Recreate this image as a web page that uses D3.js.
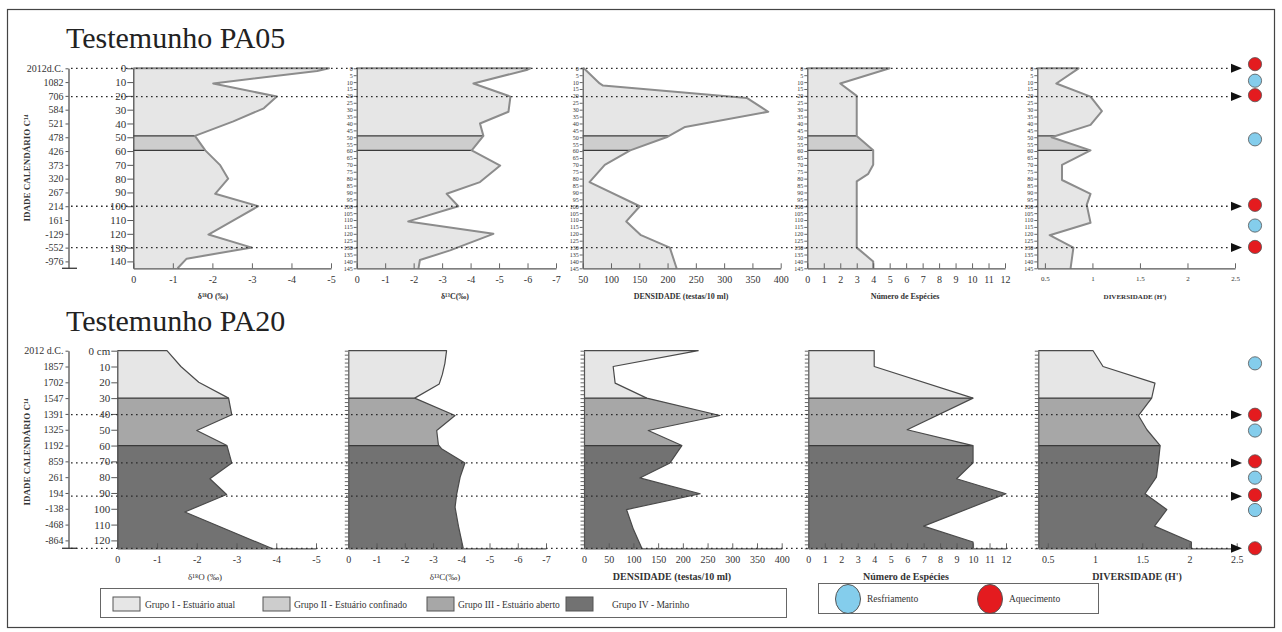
<!DOCTYPE html>
<html>
<head>
<meta charset="utf-8">
<script src="https://cdn.jsdelivr.net/npm/d3@7"></script>
<style>
  body { margin: 0; background: #fff; }
  svg { display: block; font-family: "Liberation Serif", "Times New Roman", serif; }
</style>
</head>
<body>
<svg id="chart" width="1282" height="632"></svg>
<script>
// ---------------- Core PA05 ----------------
const pa05AgeDepths = [0, 10, 20, 30, 40, 50, 60, 70, 80, 90, 100, 110, 120, 130, 140];
const pa05AgeLabels = ["2012d.C.", "1082", "706", "584", "521", "478", "426", "373", "320", "267", "214", "161", "-129", "-552", "-976"];
const pa05DepthLabels = [0, 10, 20, 30, 40, 50, 60, 70, 80, 90, 100, 110, 120, 130, 140];
const pa05Bands = [[0, 49, "I"], [49, 59.5, "II"], [59.5, 145, "I"]];
// [depth cm, value]
const pa05D18O = [[0,-4.95],[2,-4.65],[11,-2.02],[20.5,-3.63],[29,-3.3],[38.5,-2.53],[49,-1.56],[59.5,-1.82],[70,-2.19],[80,-2.4],[91,-2.07],[100,-3.16],[109,-2.61],[120.5,-1.9],[130,-3.0],[138,-1.35],[145,-1.12]];
const pa05D13C = [[0,-6.1],[1,-6.0],[11,-4.1],[20.5,-5.4],[31.5,-5.33],[40,-4.33],[49,-4.45],[59.5,-4.04],[70.5,-5.04],[82.5,-4.33],[91,-3.16],[100,-3.57],[111,-1.81],[120,-4.8],[132,-3.28],[139,-2.22],[145,-2.17]];
const pa05Dens = [[0,52],[11,80],[12.5,86],[21.5,340],[31.5,378],[42.5,231],[50,198],[59.5,134],[70,89],[82.5,62],[100,151],[111,127],[121,153],[130,204],[145,216]];
const pa05Spec = [[0,5],[11,2],[20,3],[49,3],[59.5,4],[70,4],[76.5,3.7],[82,3],[130,3],[140,4],[145,4]];
const pa05Div = [[0,0.855],[11,0.62],[20.5,0.98],[31,1.1],[41,0.98],[50,0.57],[59.5,0.98],[70,0.68],[81,0.68],[91,0.98],[99,0.94],[112,0.98],[121,0.55],[130,0.8],[145,0.77]];
const pa05Events = [0, 20.5, 100, 130];
const pa05Markers = [["A",-3],["R",9],["A",19.5],["R",51.5],["A",99],["R",114],["A",129.5]];

// ---------------- Core PA20 ----------------
const pa20AgeDepths = [0, 10, 20, 30, 40, 50, 60, 70, 80, 90, 100, 110, 120];
const pa20AgeLabels = ["2012 d.C.", "1857", "1702", "1547", "1391", "1325", "1192", "859", "261", "194", "-138", "-468", "-864"];
const pa20DepthLabels = ["0 cm", "10", "20", "30", "40", "50", "60", "70", "80", "90", "100", "110", "120"];
const pa20Bands = [[0, 30, "I"], [30, 60, "III"], [60, 125, "IV"]];
const pa20D18O = [[0,-1.25],[10,-1.6],[20,-2.05],[30,-2.8],[40.5,-2.88],[50.5,-2.0],[60,-2.76],[71,-2.88],[81,-2.33],[91,-2.75],[102,-1.7],[125,-3.88]];
const pa20D13C = [[0,-3.48],[8,-3.42],[15,-3.33],[21,-3.22],[30,-2.35],[41,-3.78],[50.5,-3.13],[59.5,-3.19],[62,-3.3],[71,-4.13],[80,-3.96],[90.5,-3.84],[99,-3.78],[111,-3.9],[125,-4.07]];
const pa20Dens = [[0,231],[10,59],[20.5,63],[30,127],[41,275],[50.5,130],[60,198],[71,174],[80.5,113],[90.5,235],[100.5,86],[113,100],[125,117]];
const pa20Spec = [[0,4],[10,4],[30,10],[50,6],[60,10],[71,10],[81,9],[90.5,12],[111,7],[121,10],[125,10]];
const pa20Div = [[0,0.98],[10,1.085],[20.5,1.635],[30,1.6],[41,1.46],[50,1.55],[60,1.69],[71,1.67],[80,1.65],[90.5,1.53],[100.5,1.76],[111,1.63],[121,2.02],[125,2.02]];
const pa20Events = [40.5, 71, 92, 125];
const pa20Markers = [["R",8],["A",40.5],["R",50.5],["A",70],["R",80.3],["A",91.3],["R",100.8],["A",125]];

// ---------------- Legend ----------------
const groupKeys = ["I", "II", "III", "IV"];
const groupNames = ["Grupo I - Estuário atual", "Grupo II - Estuário confinado", "Grupo III - Estuário aberto", "Grupo IV - Marinho"];
const eventNames = ["Resfriamento", "Aquecimento"];

const groupColor = { I: "#e6e6e6", II: "#cdcdcd", III: "#a7a7a7", IV: "#727272" };
const eventColor = { R: "#84cdec", A: "#e41b1f" };

const svg = d3.select("#chart");
const defs = svg.append("defs");
let clipId = 0;

// frame
svg.append("rect").attr("x", 7.5).attr("y", 9.5).attr("width", 1267).attr("height", 618)
  .attr("fill", "none").attr("stroke", "#444").attr("stroke-width", 1.2);

function interp(series, d) {
  for (let i = 1; i < series.length; i++) {
    const a = series[i - 1], b = series[i];
    if (d >= a[0] && d <= b[0]) return a[1] + (b[1] - a[1]) * (d - a[0]) / (b[0] - a[0]);
  }
  return series[series.length - 1][1];
}

function styleAxis(g, size, color) {
  g.selectAll("path.domain").attr("stroke", color).attr("stroke-width", 1.2);
  g.selectAll(".tick line").attr("stroke", color).attr("stroke-width", 0.9);
  g.selectAll(".tick text").attr("font-size", size).attr("fill", "#333")
    .attr("font-family", "'Liberation Serif', serif");
}

function drawCore(core) {
  const y = d3.scaleLinear().domain([0, core.maxDepth]).range(core.yRange);
  const g = svg.append("g");

  // title
  g.append("text").attr("x", 66).attr("y", core.titleY).attr("font-size", 30)
    .attr("fill", "#222").text(core.title);

  // age axis
  const ageAxis = d3.axisLeft(y).tickValues(core.ageDepths)
    .tickFormat((d, i) => core.ageLabels[i]).tickSize(3).tickSizeOuter(0).tickPadding(2);
  const ga = g.append("g").attr("transform", "translate(68.5,0)").call(ageAxis);
  styleAxis(ga, 10, "#444");
  g.append("line").attr("x1", 62).attr("x2", 77).attr("y1", y(core.maxDepth)).attr("y2", y(core.maxDepth))
    .attr("stroke", "#444").attr("stroke-width", 1.4);
  g.append("text").attr("transform", `translate(30,${core.ageTitleY}) rotate(-90)`)
    .attr("text-anchor", "middle").attr("font-size", 9).attr("font-weight", "bold").attr("fill", "#333")
    .text("IDADE CALENDÁRIO C¹⁴");

  core.panels.forEach((p, pi) => {
    const x = d3.scaleLinear().domain(p.domain).range(p.range);
    const x0 = p.range[0];
    const pg = g.append("g");

    // filled bands
    const area = d3.area().y(d => y(d[0])).x0(x0).x1(d => x(d[1]));
    core.bands.forEach(b => {
      const id = "clip" + (clipId++);
      defs.append("clipPath").attr("id", id).append("rect")
        .attr("x", x0).attr("width", p.range[1] - x0 + 20)
        .attr("y", y(b[0])).attr("height", y(b[1]) - y(b[0]));
      pg.append("path").datum(p.data).attr("d", area)
        .attr("clip-path", `url(#${id})`).attr("fill", groupColor[b[2]]);
    });

    // band boundaries
    core.bands.slice(1).forEach(b => {
      pg.append("line").attr("x1", x0).attr("x2", x(interp(p.data, b[0])))
        .attr("y1", y(b[0])).attr("y2", y(b[0]))
        .attr("stroke", "#3a3a3a").attr("stroke-width", 1.2);
    });

    // profile outline
    const outline = [[0, p.domain[0]], ...p.data, [core.maxDepth, p.domain[0]]];
    const firstPt = [[0, p.domain[0]]];
    pg.append("path").datum(firstPt.concat(p.data))
      .attr("d", d3.line().y(d => y(d[0])).x(d => x(d[1])))
      .attr("fill", "none").attr("stroke", core.lineColor).attr("stroke-width", core.lineWidth)
      .attr("stroke-linejoin", "round");

    // depth axis
    const depthAxisG = pg.append("g").attr("transform", `translate(${x0},0)`);
    if (pi === 0) {
      depthAxisG.call(d3.axisLeft(y).tickValues(d3.range(0, core.maxDepth + 0.1, 2.5)).tickSize(3).tickFormat("").tickSizeOuter(0));
      depthAxisG.call(d3.axisLeft(y).tickValues(core.depthLabelValues)
        .tickFormat((d, i) => core.depthLabels[i]).tickSize(6).tickSizeOuter(0).tickPadding(1));
      styleAxis(depthAxisG, 11, "#444");
    } else if (core.smallDepthLabels) {
      depthAxisG.call(d3.axisLeft(y).tickValues(d3.range(0, core.maxDepth + 0.1, 5))
        .tickSize(3).tickSizeOuter(0).tickPadding(1));
      styleAxis(depthAxisG, 6, "#555");
    } else {
      depthAxisG.call(d3.axisLeft(y).tickValues(d3.range(0, core.maxDepth + 0.1, 2.5))
        .tickSize(3.5).tickFormat("").tickSizeOuter(0));
      styleAxis(depthAxisG, 6, "#555");
    }

    // value axis
    const yb = y(core.maxDepth);
    const vx = pg.append("g").attr("transform", `translate(0,${yb})`);
    vx.call(d3.axisBottom(x).tickValues(p.minor).tickSize(-2.5).tickFormat("").tickSizeOuter(0));
    vx.call(d3.axisBottom(x).tickValues(p.ticks).tickFormat(p.fmt || (d => String(d).replace("-", "-")))
      .tickSize(-5).tickSizeOuter(0).tickPadding(8));
    styleAxis(vx, p.tickFont || 10, "#555");

    // axis title
    pg.append("text").attr("x", p.titleX).attr("y", core.xTitleY)
      .attr("text-anchor", "middle").attr("font-size", p.titleSize)
      .attr("font-weight", p.bold ? "bold" : "normal").attr("fill", "#333").text(p.title);
  });

  // event lines
  core.events.forEach(d => {
    g.append("line").attr("x1", 71).attr("x2", 1232).attr("y1", y(d)).attr("y2", y(d))
      .attr("stroke", "#2a2a2a").attr("stroke-width", 1.3).attr("stroke-dasharray", "1.6,3.4");
    g.append("path").attr("d", `M1231,${y(d) - 4.5} L1242,${y(d)} L1231,${y(d) + 4.5} Z`).attr("fill", "#111");
  });

  // climate markers
  core.markers.forEach(m => {
    g.append("circle").attr("cx", 1255).attr("cy", y(m[1])).attr("r", 6.6)
      .attr("fill", eventColor[m[0]]).attr("stroke", "#555").attr("stroke-width", 0.8);
  });
}

const fmtNeg = d => (d === 0 ? "0" : String(d));

drawCore({
  title: "Testemunho PA05", titleY: 48, maxDepth: 145, yRange: [68.3, 268.3], ageTitleY: 168,
  ageDepths: pa05AgeDepths, ageLabels: pa05AgeLabels,
  depthLabelValues: pa05DepthLabels, depthLabels: pa05DepthLabels.map(String),
  smallDepthLabels: true, bands: pa05Bands, events: pa05Events, markers: pa05Markers,
  lineColor: "#8c8c8c", lineWidth: 2, xTitleY: 299,
  panels: [
    { data: pa05D18O, domain: [0, -5], range: [133.3, 331], ticks: d3.range(0, -5.1, -1), minor: d3.range(0, -5.1, -0.5), fmt: fmtNeg, title: "δ¹⁸O (‰)", titleX: 213, titleSize: 8, bold: true },
    { data: pa05D13C, domain: [0, -7], range: [356.7, 556], ticks: d3.range(0, -7.1, -1), minor: d3.range(0, -7.1, -0.5), fmt: fmtNeg, title: "δ¹³C(‰)", titleX: 455, titleSize: 8, bold: true },
    { data: pa05Dens, domain: [50, 400], range: [582.7, 780.7], ticks: d3.range(50, 401, 50), minor: d3.range(50, 401, 25), title: "DENSIDADE (testas/10 ml)", titleX: 681, titleSize: 8, bold: true },
    { data: pa05Spec, domain: [0, 12], range: [807.3, 1005], ticks: d3.range(0, 13, 1), minor: d3.range(0, 12.1, 0.5), title: "Número de Espécies", titleX: 905, titleSize: 8, bold: true },
    { data: pa05Div, domain: [0.42, 2.5], range: [1037.3, 1235], ticks: [0.5, 1, 1.5, 2, 2.5], minor: [0.75, 1.25, 1.75, 2.25], fmt: d => d3.format(".1f")(d).replace(".0", ""), tickFont: 7, title: "DIVERSIDADE (H')", titleX: 1135, titleSize: 7, bold: true }
  ]
});

drawCore({
  title: "Testemunho PA20", titleY: 331, maxDepth: 125, yRange: [350.7, 548.3], ageTitleY: 452,
  ageDepths: pa20AgeDepths, ageLabels: pa20AgeLabels,
  depthLabelValues: pa20AgeDepths, depthLabels: pa20DepthLabels,
  smallDepthLabels: false, bands: pa20Bands, events: pa20Events, markers: pa20Markers,
  lineColor: "#4a4a4a", lineWidth: 1.2, xTitleY: 580,
  panels: [
    { data: pa20D18O, domain: [0, -5], range: [117.3, 316], ticks: d3.range(0, -5.1, -1), minor: d3.range(0, -5.1, -0.5), fmt: fmtNeg, title: "δ¹⁸O (‰)", titleX: 205, titleSize: 9, bold: false },
    { data: pa20D13C, domain: [0, -7], range: [348.3, 546], ticks: d3.range(0, -7.1, -1), minor: d3.range(0, -7.1, -0.5), fmt: fmtNeg, title: "δ¹³C(‰)", titleX: 445, titleSize: 9, bold: false },
    { data: pa20Dens, domain: [0, 400], range: [584, 781.7], ticks: d3.range(0, 401, 50), minor: d3.range(0, 401, 25), title: "DENSIDADE (testas/10 ml)", titleX: 672, titleSize: 10, bold: true },
    { data: pa20Spec, domain: [0, 12], range: [808.3, 1006], ticks: d3.range(0, 13, 1), minor: d3.range(0, 12.1, 0.5), title: "Número de Espécies", titleX: 906, titleSize: 10, bold: true },
    { data: pa20Div, domain: [0.4, 2.5], range: [1038.3, 1236.7], ticks: [0.5, 1, 1.5, 2, 2.5], minor: [0.75, 1.25, 1.75, 2.25], fmt: d => d3.format(".1f")(d).replace(".0", ""), tickFont: 10, title: "DIVERSIDADE (H')", titleX: 1137, titleSize: 10, bold: true }
  ]
});

// ---------------- Legends ----------------
const lg = svg.append("g");
lg.append("rect").attr("x", 100.5).attr("y", 588.5).attr("width", 686).attr("height", 29)
  .attr("fill", "#fff").attr("stroke", "#666").attr("stroke-width", 1);
const swX = [113, 263, 427, 566];
const txX = [145, 294, 458, 612];
groupKeys.forEach((k, i) => {
  lg.append("rect").attr("x", swX[i]).attr("y", 597).attr("width", 27).attr("height", 14)
    .attr("fill", groupColor[k]).attr("stroke", "#555").attr("stroke-width", 1);
  lg.append("text").attr("x", txX[i]).attr("y", 607.5).attr("font-size", 9.5).attr("fill", "#333").text(groupNames[i]);
});

lg.append("rect").attr("x", 818.5).attr("y", 583.5).attr("width", 280).attr("height", 30)
  .attr("fill", "#fff").attr("stroke", "#666").attr("stroke-width", 1);
const evKeys = ["R", "A"];
const evCx = [848, 990];
evKeys.forEach((k, i) => {
  lg.append("ellipse").attr("cx", evCx[i]).attr("cy", 599).attr("rx", 12.5).attr("ry", 14.5)
    .attr("fill", eventColor[k]).attr("stroke", "#555").attr("stroke-width", 1);
  lg.append("text").attr("x", evCx[i] + 19).attr("y", 602).attr("font-size", 9.5).attr("fill", "#333").text(eventNames[i]);
});
</script>
</body>
</html>
